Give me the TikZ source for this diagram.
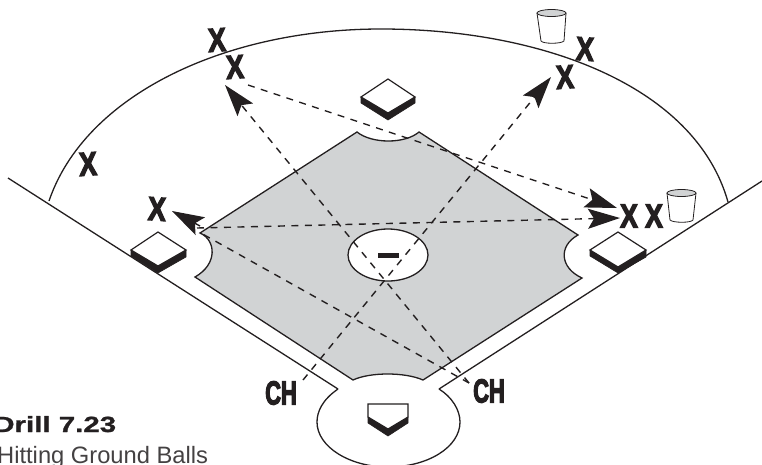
\documentclass[tikz,border=0pt]{standalone}
\usepackage{fontspec}
\setmainfont{Liberation Sans}
\newfontfamily\mk[BoldFeatures={FakeBold=4.5}]{Liberation Sans}
\newfontfamily\ttl[BoldFeatures={FakeBold=1}]{Liberation Sans}
\usetikzlibrary{arrows.meta}
\definecolor{ink}{HTML}{231F20}
\definecolor{dirt}{HTML}{D1D3D4}
\tikzset{
  x=1pt,y=-1pt,
  ln/.style={draw=ink,line width=1.3pt,line join=miter},
  dashln/.style={draw=ink,line width=1.4pt,dash pattern=on 7pt off 6.5pt},
  head/.style={-{Stealth[length=32pt,width=20pt,inset=6pt,color=ink]}},
  player/.style={inner sep=0,text=ink,font=\fontsize{33}{33}\selectfont\mk\bfseries,xscale=.8},
  chtext/.style={inner sep=0,text=ink,font=\fontsize{33}{33}\selectfont\mk\bfseries,xscale=.66},
  base/.style={fill=white,draw=ink,line width=1.2pt,line join=miter},
  black/.style={fill=ink,draw=ink,line width=.6pt},
}
\begin{document}
\begin{tikzpicture}
\useasboundingbox (0,0) rectangle (762,464);
% foul lines and arcs
\path[ln] (8,178) -- (338,389);
\path[ln] (762,181) -- (439,389);
\path[ln] (49,201) .. controls (85,95) and (225,29) .. (381,29) .. controls (540,29) and (695,85) .. (728,202);
\path[ln,fill=white] (338,389) .. controls (322,400) and (317,412) .. (317,422) .. controls (317,447) and (350,467) .. (388,467) .. controls (428,467) and (460,447) .. (460,422) .. controls (460,410) and (452,397) .. (439,389);
% infield
\path[ln,fill=dirt] (357,132) .. controls (372,144) and (405,144) .. (419,132) -- (578,235)
  .. controls (558,246) and (560,268) .. (582,278) -- (423,380)
  .. controls (405,372) and (370,372) .. (353,380) -- (195,277)
  .. controls (218,264) and (216,240) .. (200,233) -- cycle;
% mound
\path[ln,fill=white] (388,255) ellipse [x radius=40,y radius=26];
\fill[ink] (378,253) rectangle (399,258);
% bases
\path[black] (361,97) -- (361,103) -- (388,120) -- (415,103) -- (415,97) -- cycle;
\path[base] (388,79) -- (415,97) -- (388,113) -- (361,97) -- cycle;
\path[black] (131,250) -- (131,256) -- (158,273) -- (186,257) -- (186,250) -- cycle;
\path[base] (158,232) -- (186,250) -- (158,266) -- (131,250) -- cycle;
\path[black] (590,250) -- (590,256) -- (618,273) -- (646,257) -- (646,250) -- cycle;
\path[base] (618,232) -- (646,250) -- (618,267) -- (590,250) -- cycle;
\path[black] (368,417) -- (368,423) -- (388,436) -- (408,423) -- (408,417) -- cycle;
\path[base] (368,404) -- (408,404) -- (408,417) -- (388,429) -- (368,417) -- cycle;
% cups
\path[ln,fill=white,line width=.8pt] (537,13) -- (541,41) .. controls (543,44) and (561,44) .. (564,41) -- (566,13);
\path[ln,fill=dirt,line width=.8pt] (551.5,13) ellipse [x radius=14.5,y radius=3.5];
\path[ln,fill=white,line width=.8pt] (667,193) -- (670,220) .. controls (673,223) and (691,223) .. (693,220) -- (696,193);
\path[ln,fill=dirt,line width=.8pt] (681.5,193) ellipse [x radius=14.5,y radius=3.5];
% players
\node[player,rotate=3] (xa) at (217,40) {X};
\node[player,rotate=3] (xb) at (235,67) {X};
\node[player,rotate=3] (xc) at (88,164) {X};
\node[player,rotate=-3] (xd) at (157,209) {X};
\node[player,rotate=-3] (xe) at (585,49) {X};
\node[player,rotate=3] (xf) at (565,77) {X};
\node[player] (xg) at (629,216) {X};
\node[player] (xh) at (654,216) {X};
\node[chtext] (cha) at (281,393) {CH};
\node[chtext] (chb) at (489,391) {CH};
% connector ends
\coordinate (sa) at (303,380);
\coordinate (ta) at (551,77);
\coordinate (sb) at (469,383);
\coordinate (tb) at (225,85);
\coordinate (sc) at (248,85);
\coordinate (tc) at (617,208);
\coordinate (sd) at (197,228);
\coordinate (td) at (620,218);
\coordinate (be) at (199,232);
\coordinate (bf) at (200,226);
\coordinate (te) at (172,211);
\path[dashln,head] (sa) -- (ta);
\path[dashln,head] (sb) -- (tb);
\path[dashln,head] (sc) -- (tc);
\path[dashln,head] (sd) -- (td);
\path[dashln] (sb) -- (be);
\path[dashln,dash pattern=,head] (bf) -- (te);
% caption
\node[anchor=base west,inner sep=0,text=ink,font=\fontsize{22}{22}\selectfont\ttl\bfseries,xscale=1.34] (title) at (-7,432) {Drill 7.23};
\node[anchor=base west,inner sep=0,text=ink!85,font=\fontsize{23.7}{23.7}\selectfont] (sub) at (-3,463) {Hitting Ground Balls};
\end{tikzpicture}
\end{document}
